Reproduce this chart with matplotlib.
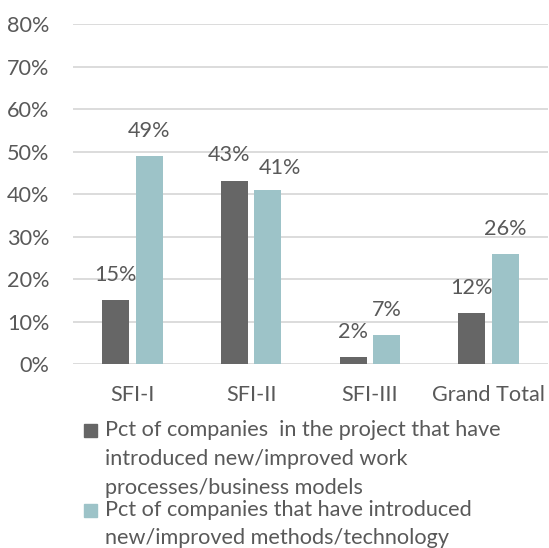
import matplotlib
matplotlib.use("Agg")
import matplotlib.pyplot as plt
from matplotlib.patches import Rectangle
import numpy as np

categories = ["SFI-I", "SFI-II", "SFI-III", "Grand Total"]
series1 = [15, 43, 1.7, 12]
series2 = [49, 41, 7, 26]
labels1 = ["15%", "43%", "2%", "12%"]
labels2 = ["49%", "41%", "7%", "26%"]
legend_lines1 = ["Pct of companies  in the project that have",
                 "introduced new/improved work",
                 "processes/business models"]
legend_lines2 = ["Pct of companies that have introduced",
                 "new/improved methods/technology"]
yticks = [0, 10, 20, 30, 40, 50, 60, 70, 80]

c1 = "#666666"
c2 = "#9DC3C8"
tc = "#595959"
fs = 15.6
plt.rcParams['font.family'] = ['Lato', 'DejaVu Sans']

fig = plt.figure(figsize=(5.49, 5.48), dpi=100)
ax = fig.add_axes([73/549, 1-364.3/548, (548-73)/549, (364.3-24)/548])

x = np.arange(len(categories))
w = 0.227
off = 0.141
# label nudges (points) to avoid overlap, as in the original
nudge1 = [(0, 18), (-4, 19), (0, 18), (0, 18)]
nudge2 = [(0, 18), (9, 16), (0, 18), (0, 18)]
ax.bar(x - off, series1, w, color=c1, zorder=3)
ax.bar(x + off, series2, w, color=c2, zorder=3)
for xi, v, l, n in zip(x, series1, labels1, nudge1):
    ax.annotate(l, (xi - off, v), xytext=n, textcoords="offset points",
                ha="center", va="center", fontsize=fs, color=tc)
for xi, v, l, n in zip(x, series2, labels2, nudge2):
    ax.annotate(l, (xi + off, v), xytext=n, textcoords="offset points",
                ha="center", va="center", fontsize=fs, color=tc)

ax.set_xlim(-0.5, len(categories) - 0.5)
ax.set_ylim(0, 80)
ax.set_yticks(yticks)
ax.set_yticklabels([f"{t}%" for t in yticks])
ax.set_xticks(x)
ax.set_xticklabels(categories)
ax.tick_params(axis="both", length=0, labelsize=fs, labelcolor=tc)
ax.tick_params(axis="y", pad=17)
ax.tick_params(axis="x", pad=15)
ax.grid(axis="y", color="#D9D9D9", linewidth=1.3, zorder=0)
for s in ax.spines.values():
    s.set_visible(False)

# legend (manual, multi-line with marker at first line)
def fy(py):
    return 1 - py / 548

sq = 13
fig.patches.append(Rectangle((84/549, fy(437)), sq/549, sq/548, color=c1,
                             transform=fig.transFigure, figure=fig))
ys1 = [430, 459, 488]
for yy, t in zip(ys1, legend_lines1):
    fig.text(105/549, fy(yy), t, ha="left", va="center", fontsize=fs, color=tc)
fig.patches.append(Rectangle((84/549, fy(517)), sq/549, sq/548, color=c2,
                             transform=fig.transFigure, figure=fig))
ys2 = [510, 538]
for yy, t in zip(ys2, legend_lines2):
    fig.text(105/549, fy(yy), t, ha="left", va="center", fontsize=fs, color=tc)

fig.savefig("out.png", dpi=100)
